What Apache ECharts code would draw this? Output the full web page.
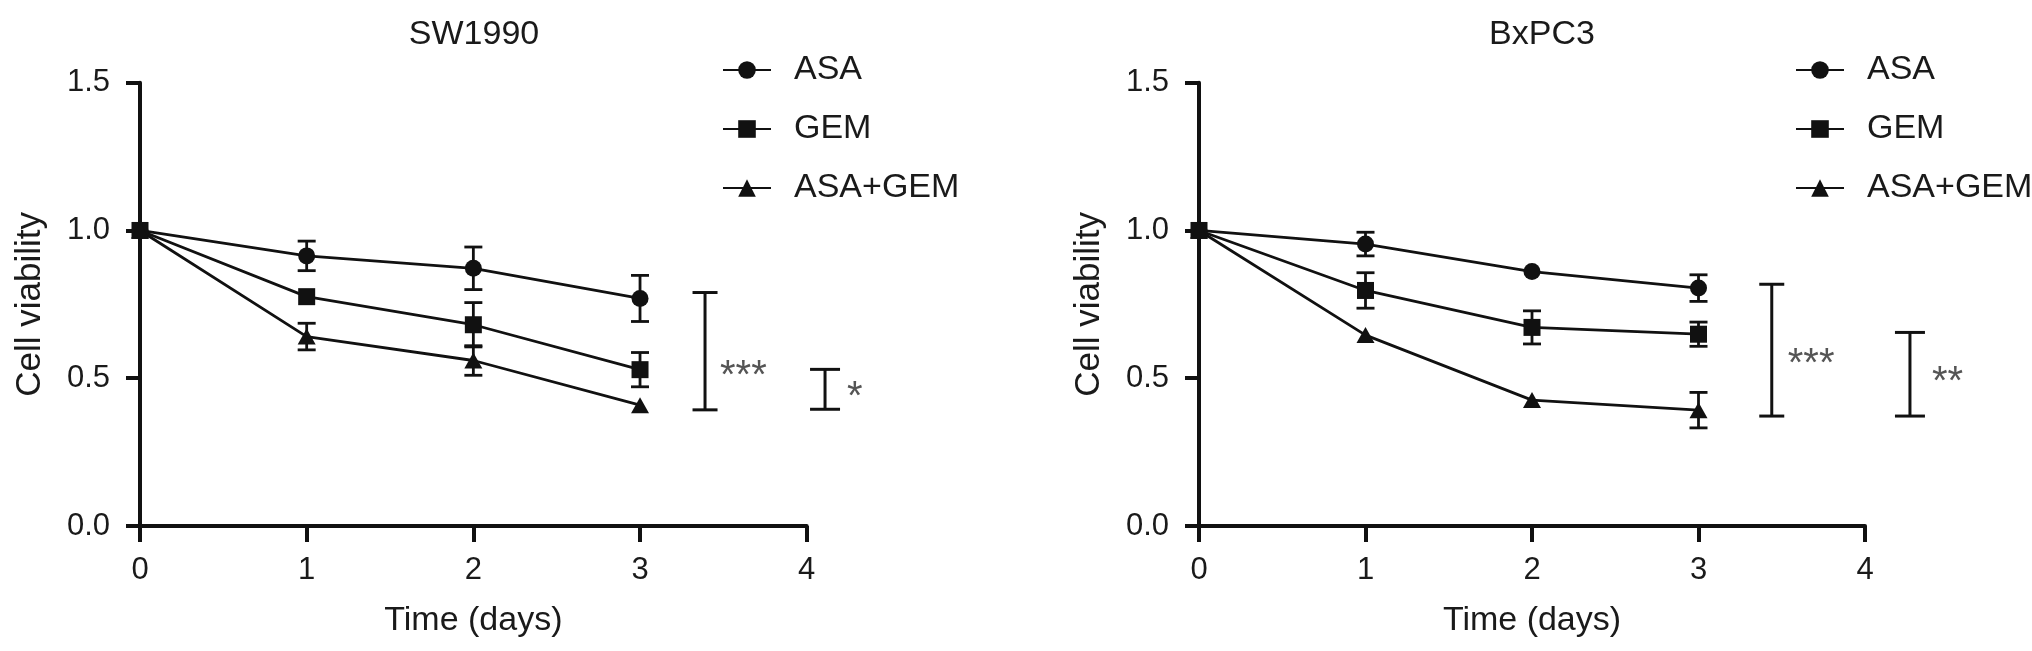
<!DOCTYPE html>
<html>
<head>
<meta charset="utf-8">
<script src="https://cdn.jsdelivr.net/npm/echarts@6/dist/echarts.min.js"></script>
<style>
  html, body { margin: 0; padding: 0; background: #fff; }
  #chart { width: 2032px; height: 651px; }
</style>
</head>
<body>
<div id="chart"></div>
<script>
// ---------- data ----------
const days = [0, 1, 2, 3];
const seriesNames = ['ASA', 'GEM', 'ASA+GEM'];
const panelTitles = ['SW1990', 'BxPC3'];
const xTickLabels = ['0', '1', '2', '3', '4'];
const yTickLabels = ['0.0', '0.5', '1.0', '1.5'];

// SW1990
const swASA = [1.0, 0.914, 0.872, 0.770];
const swASAErr = [0, 0.050, 0.072, 0.078];
const swGEM = [1.0, 0.776, 0.681, 0.529];
const swGEMErr = [0, 0, 0.075, 0.058];
const swCombo = [1.0, 0.641, 0.560, 0.409];
const swComboErr = [0, 0.045, 0.050, 0];

// BxPC3
const bxASA = [1.0, 0.954, 0.861, 0.805];
const bxASAErr = [0, 0.040, 0, 0.045];
const bxGEM = [1.0, 0.797, 0.672, 0.649];
const bxGEMErr = [0, 0.060, 0.056, 0.041];
const bxCombo = [1.0, 0.646, 0.426, 0.392];
const bxComboErr = [0, 0, 0, 0.060];

// significance brackets (y range and label)
const swSigFrom = [0.393, 0.395];
const swSigTo = [0.790, 0.530];
const swSigLabel = ['***', '*'];
const bxSigFrom = [0.372, 0.372];
const bxSigTo = [0.818, 0.655];
const bxSigLabel = ['***', '**'];

// ---------- layout (positions / styles) ----------
const FONT = '"Liberation Sans", Arial, Helvetica, sans-serif';
const TXT = '#1a1a1a';
const INK = '#111';
const sigXPos = [[3.39, 4.11], [3.44, 4.27]];     // bracket x in axis units
const sigCapHalf = [[12.5, 15], [12.5, 15]];
const sigTextDx = [[15, 22], [16, 22]];
const sigTextDy = [[17, 0], [6, 0]];
const grids = [
  { left: 140, top: 82.7, width: 666.7, height: 443.3 },
  { left: 1199, top: 82.7, width: 666, height: 443.3 }
];
const titleX = [469, 1537];
const legendX = [717, 1790];
const symbols = ['circle', 'rect', 'triangle'];
const symbolSizes = [17, 17, [18, 16]];

const panels = [
  { vals: [swASA, swGEM, swCombo], errs: [swASAErr, swGEMErr, swComboErr],
    sigFrom: swSigFrom, sigTo: swSigTo, sigLabel: swSigLabel },
  { vals: [bxASA, bxGEM, bxCombo], errs: [bxASAErr, bxGEMErr, bxComboErr],
    sigFrom: bxSigFrom, sigTo: bxSigTo, sigLabel: bxSigLabel }
];

function ln(x1, y1, x2, y2, w) {
  return { type: 'line', shape: { x1, y1, x2, y2 },
           style: { stroke: INK, lineWidth: w, lineCap: 'butt' } };
}

const option = {
  animation: false,
  backgroundColor: '#fff',
  textStyle: { fontFamily: FONT },
  title: panelTitles.map((t, i) => ({
    text: t, left: titleX[i], top: 13, textAlign: 'center',
    textStyle: { fontFamily: FONT, fontSize: 34, fontWeight: 'normal', color: TXT }
  })),
  legend: panels.map((p, i) => ({
    orient: 'vertical', left: legendX[i], top: 48,
    data: seriesNames, itemWidth: 48, itemHeight: 22, itemGap: 25,
    selectedMode: false,
    textStyle: { fontFamily: FONT, fontSize: 34, color: TXT, padding: [0, 0, 0, 18] }
  })),
  grid: grids.map(g => Object.assign({ containLabel: false }, g)),
  xAxis: panels.map((p, i) => ({
    type: 'value', gridIndex: i, min: 0, max: 4, interval: 1,
    name: 'Time (days)', nameLocation: 'middle', nameGap: 78,
    nameTextStyle: { fontFamily: FONT, fontSize: 34, color: TXT },
    axisLine: { show: true, onZero: false, lineStyle: { color: INK, width: 4 } },
    axisTick: { show: true, length: 16, lineStyle: { color: INK, width: 4 } },
    axisLabel: { margin: 29, fontSize: 31, color: TXT, fontFamily: FONT,
                 formatter: v => xTickLabels[Math.round(v)] },
    splitLine: { show: false }
  })),
  yAxis: panels.map((p, i) => ({
    type: 'value', gridIndex: i, min: 0, max: 1.5, interval: 0.5,
    name: 'Cell viability', nameLocation: 'middle', nameGap: 92, nameRotate: 90,
    nameTextStyle: { fontFamily: FONT, fontSize: 35, color: TXT },
    axisLine: { show: true, onZero: false, lineStyle: { color: INK, width: 4 } },
    axisTick: { show: true, length: 14, lineStyle: { color: INK, width: 4 } },
    axisLabel: { margin: 30, fontSize: 31, color: TXT, fontFamily: FONT,
                 formatter: v => yTickLabels[Math.round(v / 0.5)] },
    splitLine: { show: false }
  })),
  series: []
};

panels.forEach((p, pi) => {
  // error bars
  p.vals.forEach((vals, si) => {
    option.series.push({
      type: 'custom', xAxisIndex: pi, yAxisIndex: pi, clip: false, silent: true, z: 2,
      encode: { x: 0, y: 1 },
      data: days.map((d, k) => [d, vals[k], p.errs[si][k]]),
      renderItem: (params, api) => {
        const x = api.value(0), v = api.value(1), e = api.value(2);
        if (!e) return null;
        const t = api.coord([x, v + e]), b = api.coord([x, v - e]);
        const hw = 9;
        return { type: 'group', children: [
          ln(t[0], t[1], b[0], b[1], 2.8),
          ln(t[0] - hw, t[1], t[0] + hw, t[1], 2.8),
          ln(b[0] - hw, b[1], b[0] + hw, b[1], 2.8)
        ] };
      }
    });
  });
  // lines with markers
  p.vals.forEach((vals, si) => {
    option.series.push({
      name: seriesNames[si], type: 'line', xAxisIndex: pi, yAxisIndex: pi, z: 3,
      data: days.map((d, k) => [d, vals[k]]),
      symbol: symbols[si], symbolSize: symbolSizes[si], showAllSymbol: true,
      itemStyle: { color: INK, borderWidth: 0 },
      lineStyle: { color: INK, width: 2.8 },
      emphasis: { disabled: true }
    });
  });
  // significance brackets
  option.series.push({
    type: 'custom', xAxisIndex: pi, yAxisIndex: pi, clip: false, silent: true, z: 2,
    encode: { x: 0, y: 1 },
    data: p.sigFrom.map((f, k) => [sigXPos[pi][k], f, p.sigTo[k], k]),
    renderItem: (params, api) => {
      const k = api.value(3);
      const x = api.value(0);
      const b = api.coord([x, api.value(1)]), t = api.coord([x, api.value(2)]);
      const hw = sigCapHalf[pi][k];
      return { type: 'group', children: [
        ln(t[0], t[1], b[0], b[1], 3),
        ln(t[0] - hw, t[1], t[0] + hw, t[1], 3),
        ln(b[0] - hw, b[1], b[0] + hw, b[1], 3),
        { type: 'text', x: t[0] + sigTextDx[pi][k],
          y: (t[1] + b[1]) / 2 + sigTextDy[pi][k] + 9,
          style: { text: p.sigLabel[k], fill: '#555', fontSize: 40, fontFamily: FONT,
                   verticalAlign: 'middle', align: 'left' } }
      ] };
    }
  });
});

const chart = echarts.init(document.getElementById('chart'), null, { renderer: 'canvas' });
chart.setOption(option);
</script>
</body>
</html>
